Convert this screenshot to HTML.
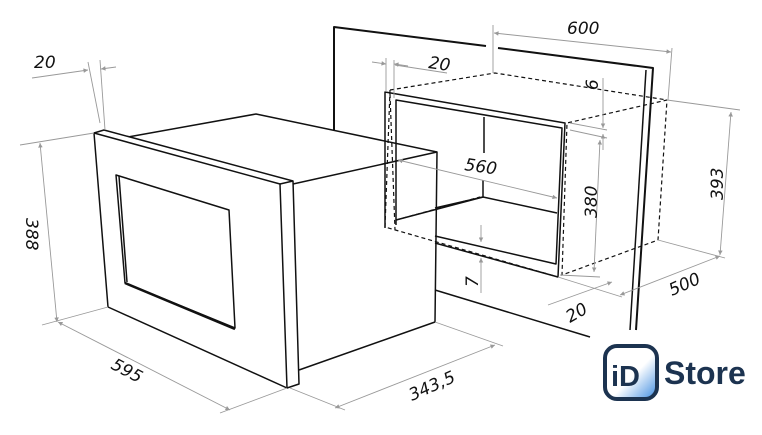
<!DOCTYPE html>
<html><head><meta charset="utf-8"><style>
html,body{margin:0;padding:0;background:#fff;}
svg{display:block;}
text{font-family:"DejaVu Sans","Liberation Sans",sans-serif;font-style:italic;font-size:17px;fill:#111;}
</style></head><body>
<svg width="762" height="435" viewBox="0 0 762 435" xmlns="http://www.w3.org/2000/svg">
<defs>
<marker id="a" viewBox="0 0 10 10" refX="10" refY="5" markerWidth="7" markerHeight="5" orient="auto-start-reverse"><path d="M0,0L10,5L0,10z" fill="#999"/></marker>
<linearGradient id="g" x1="0" y1="0" x2="1" y2="1"><stop offset="0.55" stop-color="#fff"/><stop offset="1" stop-color="#3d8be0"/></linearGradient>
</defs>
<g fill="none" stroke="#111" stroke-width="1.5" stroke-linejoin="round">
<path d="M334,130 L334,27 L486,46" stroke-width="2"/>
<path d="M498,48 L653,68 L636,330" stroke-width="2"/>
<path d="M646,70 L630,330" stroke-width="1.5"/>
<path d="M385,228 L385,92 L565,123 L558,277 L435,243"/>
<path d="M396,225 L396,100 L562,128 L556,264 L435,236"/>
<path d="M484,117 L484,153"/>
<path d="M396,220 L483,197 L557,213"/>
<path d="M435,208 L483,197 L483,180"/>
<path d="M435,290 L590,337"/>
<path d="M128,137 L256,114 L437,152 L435,322 L299,370"/>
<path d="M293,184 L437,152"/>
<path d="M94,133 L104,130 L293,181 L299,384 L287,388 L108,307 Z" fill="#fff"/>
<path d="M94,133 L280,184 L287,388"/>
<path d="M280,184 L293,181"/>
<path d="M116,175 L229,210 L235,328 L125,283 Z"/>
<path d="M119,176 L127,282" />
<path d="M125,283 L235,329" stroke-width="2.5"/>
</g>
<g fill="none" stroke="#111" stroke-width="1.2" stroke-dasharray="4,3">
<path d="M390,90 L495,73 L667,100 L567,123 L562,275 L658,240 L667,100"/>
<path d="M390,90 L385,227 L558,277"/>
<path d="M396,220 L480,197"/>
<path d="M390,94 L395,230"/>
</g>
<g fill="none" stroke="#999" stroke-width="0.9">
<path d="M88,62 L100,123"/><path d="M100,60 L105,130"/>
<path d="M32,78 L88,70" marker-end="url(#a)"/><path d="M116,67 L101,69" marker-end="url(#a)"/>
<path d="M20,145 L94,133"/><path d="M42,325 L108,307"/>
<path d="M40,143 L57,322" marker-start="url(#a)" marker-end="url(#a)"/>
<path d="M58,322 L230,410" marker-start="url(#a)" marker-end="url(#a)"/>
<path d="M220,413 L287,388"/>
<path d="M290,388 L345,410"/><path d="M435,322 L503,346"/>
<path d="M335,408 L495,345" marker-start="url(#a)" marker-end="url(#a)"/>
<path d="M493,25 L493,73"/><path d="M672,48 L668,100"/>
<path d="M494,33 L671,52" marker-start="url(#a)" marker-end="url(#a)"/>
<path d="M386,58 L386,92"/><path d="M394,60 L394,98"/>
<path d="M395,65 L447,73"/><path d="M372,62 L386,64" marker-end="url(#a)"/><path d="M408,66 L394,64" marker-end="url(#a)"/>
<path d="M398,160 L557,198" marker-start="url(#a)" marker-end="url(#a)"/>
<path d="M570,123 L607,130"/><path d="M570,130 L607,138"/>
<path d="M603,78 L603,128" marker-end="url(#a)"/><path d="M603,150 L603,134" marker-end="url(#a)"/>
<path d="M600,140 L594,272" marker-start="url(#a)" marker-end="url(#a)"/>
<path d="M560,275 L600,277"/>
<path d="M667,100 L740,110"/><path d="M658,240 L725,258"/>
<path d="M731,112 L720,255" marker-start="url(#a)" marker-end="url(#a)"/>
<path d="M481,225 L481,242" marker-end="url(#a)"/><path d="M481,293 L481,258" marker-end="url(#a)"/>
<path d="M558,277 L622,297"/><path d="M548,305 L612,282" marker-end="url(#a)"/>
<path d="M620,295 L720,256" marker-start="url(#a)" marker-end="url(#a)"/>
</g>
<g>
<text x="34" y="68">20</text>
<text transform="translate(26,218) rotate(90)">388</text>
<text transform="translate(110,368) rotate(28)">595</text>
<text transform="translate(412,401) rotate(-24)">343,5</text>
<text x="567" y="34">600</text>
<text transform="translate(428,68) rotate(8)">20</text>
<text transform="translate(598,90) rotate(-90)">6</text>
<text transform="translate(464,170) rotate(8)">560</text>
<text transform="translate(597,218) rotate(-90)">380</text>
<text transform="translate(723,200) rotate(-90)">393</text>
<text transform="translate(478,287) rotate(-90)">7</text>
<text transform="translate(570,323) rotate(-30)">20</text>
<text transform="translate(672,296) rotate(-24)">500</text>
</g>
<rect x="605" y="346" width="52" height="53" rx="12" fill="url(#g)" stroke="#1c3350" stroke-width="4"/>
<text x="611" y="386" style="font-family:'Liberation Sans',sans-serif;font-style:normal;font-weight:bold;font-size:29px;fill:#1c3350">iD</text>
<text x="664" y="384" style="font-family:'Liberation Sans',sans-serif;font-style:normal;font-weight:bold;font-size:32px;fill:#1c3350">Store</text>
</svg>
</body></html>
